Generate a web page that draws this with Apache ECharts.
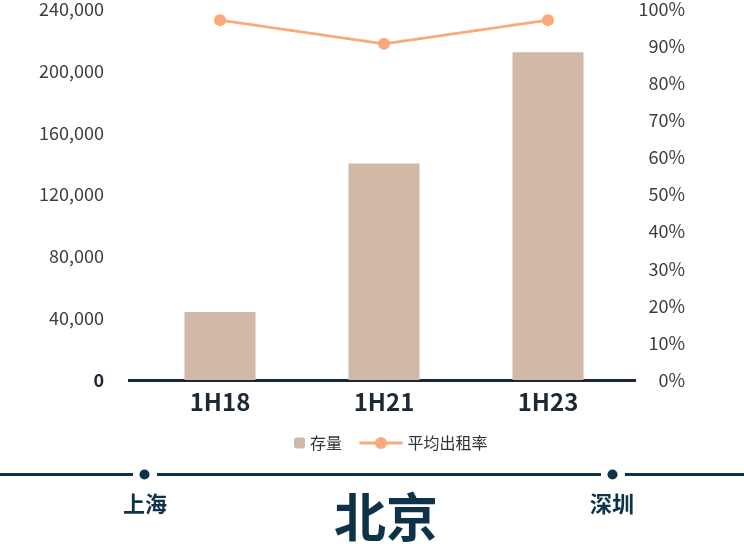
<!DOCTYPE html>
<html>
<head>
<meta charset="utf-8">
<script src="https://cdn.jsdelivr.net/npm/echarts@6/dist/echarts.min.js"></script>
<style>
html,body{margin:0;padding:0;background:#fff;}
#c{width:744px;height:544px;}
</style>
</head>
<body>
<div id="c"></div>
<script>
var categories = ['1H18', '1H21', '1H23'];
var stockValues = [44000, 140000, 212000];
var occupancyValues = [97, 90.6, 97];
var seriesNames = ['存量', '平均出租率'];
var cityLeft = '上海';
var cityMain = '北京';
var cityRight = '深圳';

var FONT = '"Noto Sans CJK SC", "Noto Sans", sans-serif';
var NAVY = '#0e3348';

var chart = echarts.init(document.getElementById('c'));
chart.setOption({
  backgroundColor: '#fff',
  textStyle: { fontFamily: FONT },
  animation: false,
  grid: { left: 138, right: 114, top: 8, bottom: 164, containLabel: false },
  legend: [
    {
      data: [seriesNames[0]],
      left: 294, top: 435, padding: 0,
      itemWidth: 11, itemHeight: 11, itemGap: 6,
      textStyle: { fontSize: 16, color: '#2e3338', fontFamily: FONT }
    },
    {
      data: [seriesNames[1]],
      left: 358, top: 435, padding: 0,
      itemWidth: 43, itemHeight: 15,
      lineStyle: { width: 3 },
      textStyle: { fontSize: 16, color: '#2e3338', fontFamily: FONT }
    }
  ],
  xAxis: {
    type: 'category',
    data: categories,
    axisLine: { show: false },
    axisTick: { show: false },
    axisLabel: { fontSize: 24, fontWeight: 'bold', color: '#1c2834', margin: 10, fontFamily: FONT }
  },
  yAxis: [
    {
      type: 'value', min: 0, max: 240000, interval: 40000,
      splitLine: { show: false }, axisLine: { show: false }, axisTick: { show: false },
      axisLabel: {
        fontSize: 18, color: '#3a3f45', margin: 34, fontFamily: FONT,
        formatter: function (v) { return v === 0 ? '{z|0}' : v.toLocaleString('en-US'); },
        rich: { z: { fontSize: 18, fontWeight: 'bold', color: '#1c2834', fontFamily: FONT } }
      }
    },
    {
      type: 'value', min: 0, max: 100, interval: 10,
      splitLine: { show: false }, axisLine: { show: false }, axisTick: { show: false },
      axisLabel: { fontSize: 18, color: '#3a3f45', margin: 55, align: 'right', fontFamily: FONT, formatter: '{value}%' }
    }
  ],
  series: [
    {
      name: seriesNames[0], type: 'bar', data: stockValues, barWidth: 71,
      itemStyle: { color: '#d1b8a7' }, z: 3
    },
    {
      name: seriesNames[1], type: 'line', yAxisIndex: 1, data: occupancyValues,
      symbol: 'circle', symbolSize: 12,
      lineStyle: { color: '#f8aa7b', width: 3 },
      itemStyle: { color: '#f8aa7b' }, z: 4
    }
  ],
  graphic: [
    { type: 'line', z: 1, shape: { x1: 128, y1: 380.5, x2: 636, y2: 380.5 }, style: { stroke: '#1c2834', lineWidth: 3 } },
    { type: 'line', shape: { x1: 0, y1: 474.5, x2: 133, y2: 474.5 }, style: { stroke: NAVY, lineWidth: 3 } },
    { type: 'line', shape: { x1: 157, y1: 474.5, x2: 601, y2: 474.5 }, style: { stroke: NAVY, lineWidth: 3 } },
    { type: 'line', shape: { x1: 625, y1: 474.5, x2: 744, y2: 474.5 }, style: { stroke: NAVY, lineWidth: 3 } },
    { type: 'circle', shape: { cx: 144.5, cy: 474.5, r: 5 }, style: { fill: NAVY } },
    { type: 'circle', shape: { cx: 612.5, cy: 474.5, r: 5 }, style: { fill: NAVY } },
    { type: 'text', x: 145, y: 504, style: { text: cityLeft, fill: NAVY, font: 'bold 22px ' + FONT, align: 'center', verticalAlign: 'middle' } },
    { type: 'text', x: 612, y: 504, style: { text: cityRight, fill: NAVY, font: 'bold 22px ' + FONT, align: 'center', verticalAlign: 'middle' } },
    { type: 'text', x: 386, y: 517, style: { text: cityMain, fill: NAVY, font: 'bold 52px ' + FONT, align: 'center', verticalAlign: 'middle' } }
  ]
});
</script>
</body>
</html>
